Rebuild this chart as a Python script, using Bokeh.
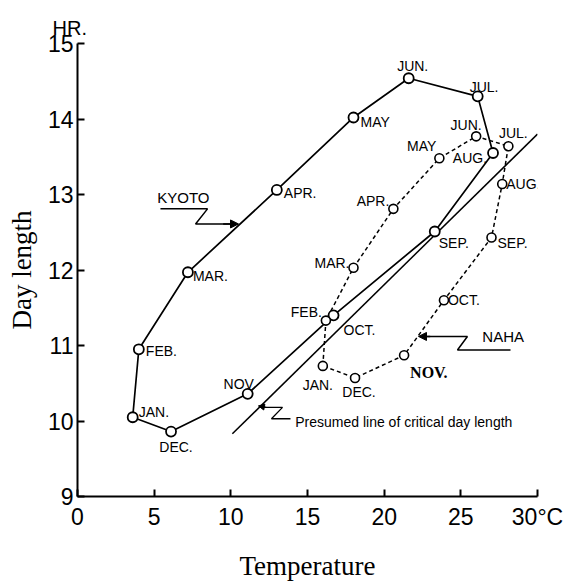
from bokeh.plotting import figure
from bokeh.models import Range1d, ColumnDataSource, Label, Arrow, NormalHead, FixedTicker
from bokeh.core.properties import value
from bokeh.embed import file_html
from bokeh.resources import INLINE

# ---------------- data ----------------
kyoto_months = ["JAN.", "FEB.", "MAR.", "APR.", "MAY", "JUN.", "JUL.", "AUG.", "SEP.", "OCT.", "NOV", "DEC."]
kyoto_temp = [3.6, 4.0, 7.2, 13.0, 18.0, 21.6, 26.1, 27.1, 23.3, 16.7, 11.1, 6.1]
kyoto_day = [10.05, 10.95, 11.97, 13.06, 14.02, 14.54, 14.30, 13.55, 12.51, 11.40, 10.36, 9.86]

naha_months = ["JAN.", "FEB.", "MAR.", "APR.", "MAY", "JUN.", "JUL.", "AUG.", "SEP.", "OCT.", "NOV.", "DEC."]
naha_temp = [16.0, 16.2, 18.0, 20.6, 23.6, 26.0, 28.1, 27.7, 27.0, 23.9, 21.3, 18.1]
naha_day = [10.73, 11.33, 12.03, 12.81, 13.48, 13.77, 13.64, 13.14, 12.43, 11.60, 10.87, 10.57]

critical_temp = [10.1, 30.0]
critical_day = [9.83, 13.8]

x_ticks = [0, 5, 10, 15, 20, 25, 30]
x_tick_labels = ["0", "5", "10", "15", "20", "25", "30°C"]
y_ticks = [9, 10, 11, 12, 13, 14, 15]

# ---------------- label layout (screen px offsets: dx right, dy down) ----------------
kyoto_dx = [6, 7, 5, 7, 7, 4, -8, -6, 4, 10, -9, 5]
kyoto_dy = [-5, 2, 4, 3, 5, -12, -9, 5, 12, 15, -10, 15]
kyoto_align = ["left", "left", "left", "left", "left", "center", "left", "right", "left", "left", "center", "center"]

naha_dx = [-5, -4, -4, -4, -3, -10, 5, 4, 6, 4, 6, 4]
naha_dy = [19, -9, -5, -8, -12, -11, -13, 0, 5, 0, 17, 14]
naha_align = ["center", "right", "right", "right", "right", "center", "center", "left", "left", "left", "left", "center"]

SANS = "Liberation Sans"
SERIF = "Liberation Serif"

p = figure(width=569, height=583, output_backend="svg", toolbar_location=None,
           x_range=Range1d(0, 30), y_range=Range1d(9, 15),
           min_border_left=77, min_border_right=32, min_border_top=43, min_border_bottom=85)
p.outline_line_color = None
p.xgrid.visible = False
p.ygrid.visible = False
p.background_fill_color = "white"
p.border_fill_color = "white"

# "HR." unit written as a left-aligned title just above the y axis
p.title.text = "HR."
p.title.align = "left"
p.title.offset = -25
p.title.text_font = SANS
p.title.text_font_size = "20px"
p.title.text_font_style = "normal"
p.title.text_color = "black"
p.title.standoff = 9

for ax in (p.xaxis[0], p.yaxis[0]):
    ax.axis_line_width = 2
    ax.axis_line_color = "black"
    ax.major_tick_in = 7
    ax.major_tick_out = 0
    ax.major_tick_line_width = 2
    ax.minor_tick_in = 0
    ax.minor_tick_out = 0
    ax.major_label_text_font = SANS
    ax.major_label_text_font_size = "23px"
    ax.major_label_text_color = "black"
    ax.axis_label_text_font = SERIF
    ax.axis_label_text_font_style = "normal"
    ax.axis_label_text_font_size = "27px"
    ax.axis_label_text_color = "black"

p.xaxis.ticker = FixedTicker(ticks=x_ticks)
p.yaxis.ticker = FixedTicker(ticks=y_ticks)
p.xaxis.major_label_overrides = {t: s for t, s in zip(x_ticks, x_tick_labels)}
p.xaxis.major_label_standoff = 7
p.yaxis.major_label_standoff = 4
p.xaxis.axis_label = "Temperature"
p.yaxis.axis_label = "Day length"
p.xaxis.axis_label_standoff = 18
p.yaxis.axis_label_standoff = 8

# critical line
p.line(critical_temp, critical_day, line_color="black", line_width=1.5)

# Kyoto (closed loop, solid)
p.line(kyoto_temp + kyoto_temp[:1], kyoto_day + kyoto_day[:1], line_color="black", line_width=1.7)
# Naha (closed loop, dashed)
p.line(naha_temp + naha_temp[:1], naha_day + naha_day[:1], line_color="black", line_width=1.5,
       line_dash="4 3")

p.scatter(kyoto_temp, kyoto_day, marker="circle", size=10, fill_color="white",
          line_color="black", line_width=1.8)
p.scatter(naha_temp, naha_day, marker="circle", size=9, fill_color="white",
          line_color="black", line_width=1.6)

ks = ColumnDataSource(dict(x=kyoto_temp, y=kyoto_day, t=kyoto_months, dx=kyoto_dx, dy=kyoto_dy, a=kyoto_align))
p.text(x="x", y="y", text="t", x_offset="dx", y_offset="dy", text_align="a", source=ks,
       text_baseline="middle", text_font=value(SANS), text_font_size="14px", text_color="black")

ns_idx = [i for i in range(12) if naha_months[i] != "NOV."]
ns = ColumnDataSource(dict(x=[naha_temp[i] for i in ns_idx], y=[naha_day[i] for i in ns_idx],
                           t=[naha_months[i] for i in ns_idx], dx=[naha_dx[i] for i in ns_idx],
                           dy=[naha_dy[i] for i in ns_idx], a=[naha_align[i] for i in ns_idx]))
p.text(x="x", y="y", text="t", x_offset="dx", y_offset="dy", text_align="a", source=ns,
       text_baseline="middle", text_font=value(SANS), text_font_size="14px", text_color="black")
nov = naha_months.index("NOV.")
p.text(x=[naha_temp[nov]], y=[naha_day[nov]], text=[naha_months[nov]], x_offset=naha_dx[nov],
       y_offset=naha_dy[nov], text_baseline="middle", text_font=value(SERIF), text_font_style="bold",
       text_font_size="16px", text_color="black")

# ---------------- annotations ----------------
# KYOTO pointer
p.add_layout(Label(x=5.2, y=12.96, text="KYOTO", text_font=SANS, text_font_size="15px",
                   text_baseline="middle", text_color="black"))
p.line([5.41, 8.48, 7.70, 10.1], [12.81, 12.81, 12.61, 12.61], line_color="black", line_width=1.5)
p.add_layout(Arrow(end=NormalHead(size=8, fill_color="black", line_color="black"),
                   x_start=9.5, y_start=12.61, x_end=10.5, y_end=12.61, line_width=1.5))

# NAHA pointer
p.add_layout(Label(x=26.4, y=11.12, text="NAHA", text_font=SANS, text_font_size="15px",
                   text_baseline="middle", text_color="black"))
p.line([22.8, 25.43, 24.78, 28.24], [11.12, 11.12, 10.94, 10.94], line_color="black", line_width=1.5)
p.add_layout(Arrow(end=NormalHead(size=8, fill_color="black", line_color="black"),
                   x_start=23.0, y_start=11.12, x_end=22.24, y_end=11.12, line_width=1.5))

# Presumed line pointer
p.line([12.1, 13.37, 12.65, 13.89], [10.18, 10.18, 10.03, 10.03], line_color="black", line_width=1.3)
p.add_layout(Arrow(end=NormalHead(size=6, fill_color="black", line_color="black"),
                   x_start=12.3, y_start=10.18, x_end=11.8, y_end=10.2, line_width=1.3))
p.add_layout(Label(x=14.2, y=9.99, text="Presumed line of critical day length", text_font=SANS,
                   text_font_size="14px", text_baseline="middle", text_color="black"))

open("out.html", "w").write(file_html(p, INLINE))
